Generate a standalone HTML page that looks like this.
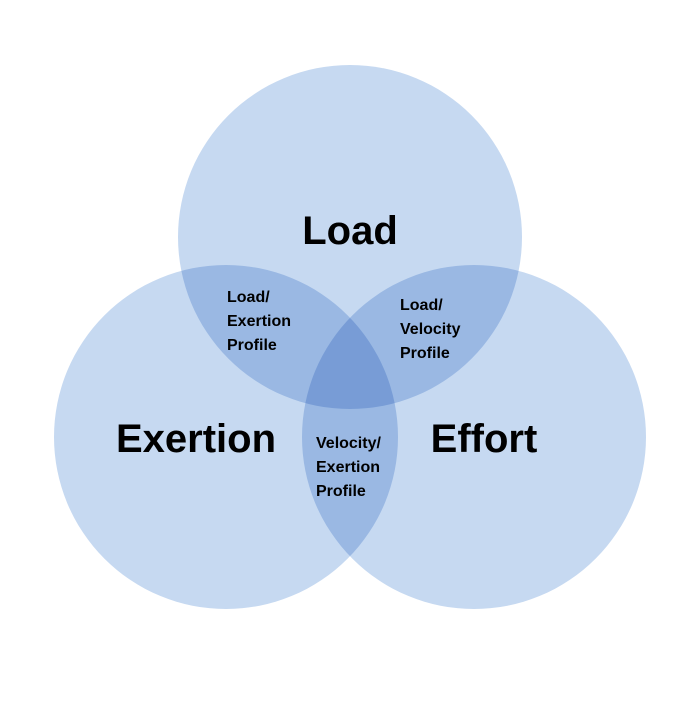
<!DOCTYPE html>
<html><head><style>body{margin:0;background:#fff}</style></head><body>
<svg width="700" height="700" xmlns="http://www.w3.org/2000/svg" font-family="Liberation Sans, sans-serif" font-weight="bold">
<rect width="700" height="700" fill="#fff"/>
<g fill="#c6d9f1">
<circle cx="350" cy="237" r="172" style="mix-blend-mode:multiply"/>
<circle cx="226" cy="437" r="172" style="mix-blend-mode:multiply"/>
<circle cx="474" cy="437" r="172" style="mix-blend-mode:multiply"/>
</g>
<g fill="#000">
<text x="350" y="244" font-size="40" text-anchor="middle">Load</text>
<text x="196" y="452" font-size="40" text-anchor="middle">Exertion</text>
<text x="484" y="452" font-size="40" text-anchor="middle">Effort</text>
<g font-size="16">
<text x="227" y="302">Load/</text><text x="227" y="326">Exertion</text><text x="227" y="350">Profile</text>
<text x="400" y="310">Load/</text><text x="400" y="334">Velocity</text><text x="400" y="358">Profile</text>
<text x="316" y="448">Velocity/</text><text x="316" y="472">Exertion</text><text x="316" y="496">Profile</text>
</g></g>
</svg>
</body></html>
